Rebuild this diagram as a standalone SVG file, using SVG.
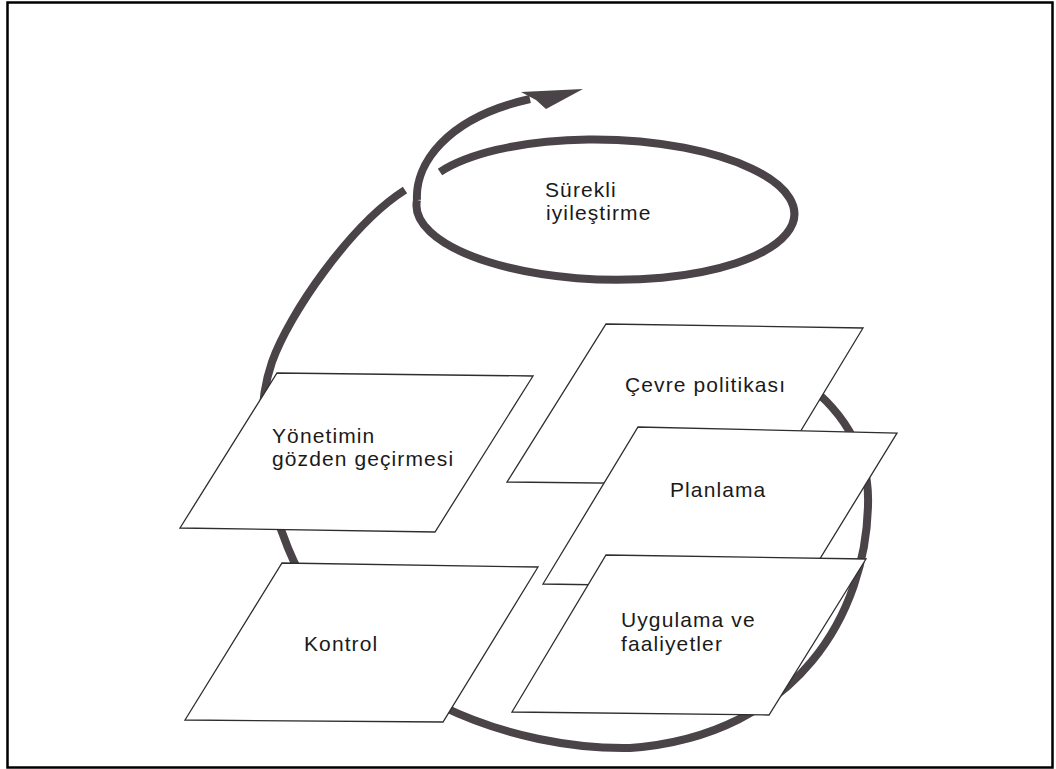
<svg xmlns="http://www.w3.org/2000/svg" width="1056" height="769" viewBox="0 0 1056 769">
<style>
.bg{fill:#ffffff}
.frame{fill:none;stroke:#000;stroke-width:2.5}
.loop{fill:none;stroke:#4a4347;stroke-width:8;stroke-linecap:butt;stroke-linejoin:round}
.head{fill:#4a4347;stroke:none}
.box{fill:#ffffff;stroke:#2e2e2e;stroke-width:1.3;stroke-linejoin:miter}
.lbl{font-family:"Liberation Sans",Arial,Helvetica,sans-serif;font-size:21px;letter-spacing:1.1px;fill:#1a1a1a}
</style>
<rect class="bg" x="0" y="0" width="1056" height="769"/>
<rect class="frame" x="7.5" y="2.5" width="1045" height="765"/>

<g id="connectors">
  <path id="cycle-arc" class="loop" d="M 795 376 C 840 405, 870 450, 868 505 C 866 610, 800 735, 630 748 C 520 750, 350 700, 288 548 C 265 492, 252 420, 272 362 C 288.5 315, 350 225, 405 190"/>
  <path id="improve-arrow" class="loop" d="M 417 200 C 415 165, 445 118, 530 99"/>
  <polygon class="head" points="521,92 583,89 546,109 536,100"/>
</g>

<g id="surekli-iyilestirme">
  <path class="loop" d="M 440 172 A 189 70 1.5 1 1 417 200"/>
  <text class="lbl" x="545" y="196.5">Sürekli</text>
  <text class="lbl" x="546" y="220">iyileştirme</text>
</g>

<g id="yonetimin-gozden-gecirmesi">
  <polygon class="box" points="277,373 533,376 435,532 180,528"/>
  <text class="lbl" x="272" y="442.5">Yönetimin</text>
  <text class="lbl" x="272" y="466">gözden geçirmesi</text>
</g>

<g id="kontrol">
  <polygon class="box" points="282,563 538,567 443,722 185,720"/>
  <text class="lbl" x="304" y="651">Kontrol</text>
</g>

<g id="cevre-politikasi">
  <polygon class="box" points="606,324 863,328 768,485 507,482"/>
  <text class="lbl" x="625" y="392">Çevre politikası</text>
</g>

<g id="planlama">
  <polygon class="box" points="638,427 897,433 802,588 543,584"/>
  <text class="lbl" x="670" y="497">Planlama</text>
</g>

<g id="uygulama-ve-faaliyetler">
  <polygon class="box" points="606,555 866,559 769,715 512,712"/>
  <text class="lbl" x="621" y="627">Uygulama ve</text>
  <text class="lbl" x="621" y="650.5">faaliyetler</text>
</g>
</svg>
